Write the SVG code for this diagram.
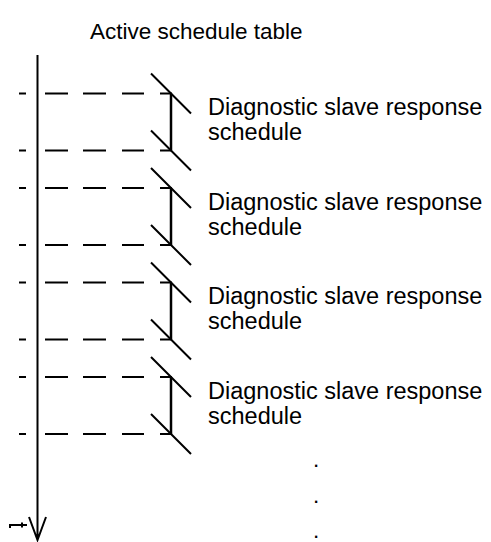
<svg xmlns="http://www.w3.org/2000/svg" width="491" height="542" viewBox="0 0 491 542">
<style>
.t{font-family:"Liberation Sans",Arial,sans-serif;font-size:22.5px;fill:#000}
.b{font-size:23.5px}
.d{stroke:#000;stroke-width:2;fill:none}
.g{stroke:#000;stroke-width:2;fill:none}
.v{stroke:#000;stroke-width:2.5;fill:none}
</style>
<rect width="491" height="542" fill="#fff"/>
<text class="t" x="90" y="39">Active schedule table</text>
<g id="connectors">
<path class="g" d="M37.5,55 V540 M29,517 L37.5,540 L46,517"/>
<path class="g" stroke-width="1.5" d="M10,528 V525 H27 M22,522.5 V527.5"/>
</g>
<g id="block1">
<path class="d" d="M19,93.5H26M45,93.5H68M83,93.5H106M122,93.5H144M160,93.5H172 M19,150.5H26M45,150.5H68M83,150.5H106M122,150.5H144M160,150.5H172"/>
<path class="g" d="M151,73.5L191,113.5M151,130.5L191,170.5"/>
<path class="v" d="M171,93.5V150.5"/>
<text class="t b" x="208" y="115">Diagnostic slave response</text>
<text class="t b" x="208" y="140">schedule</text>
</g>
<g id="block2">
<path class="d" d="M19,188H26M45,188H68M83,188H106M122,188H144M160,188H172 M19,245H26M45,245H68M83,245H106M122,245H144M160,245H172"/>
<path class="g" d="M151,168L191,208M151,225L191,265"/>
<path class="v" d="M171,188V245"/>
<text class="t b" x="208" y="209.5">Diagnostic slave response</text>
<text class="t b" x="208" y="234.5">schedule</text>
</g>
<g id="block3">
<path class="d" d="M19,282.5H26M45,282.5H68M83,282.5H106M122,282.5H144M160,282.5H172 M19,339.5H26M45,339.5H68M83,339.5H106M122,339.5H144M160,339.5H172"/>
<path class="g" d="M151,262.5L191,302.5M151,319.5L191,359.5"/>
<path class="v" d="M171,282.5V339.5"/>
<text class="t b" x="208" y="304">Diagnostic slave response</text>
<text class="t b" x="208" y="329">schedule</text>
</g>
<g id="block4">
<path class="d" d="M19,377H26M45,377H68M83,377H106M122,377H144M160,377H172 M19,434H26M45,434H68M83,434H106M122,434H144M160,434H172"/>
<path class="g" d="M151,357L191,397M151,414L191,454"/>
<path class="v" d="M171,377V434"/>
<text class="t b" x="208" y="398.5">Diagnostic slave response</text>
<text class="t b" x="208" y="423.5">schedule</text>
</g>
<g id="dots">
<text class="t" x="313" y="467">.</text>
<text class="t" x="313" y="503">.</text>
<text class="t" x="313" y="538">.</text>
</g>
</svg>
